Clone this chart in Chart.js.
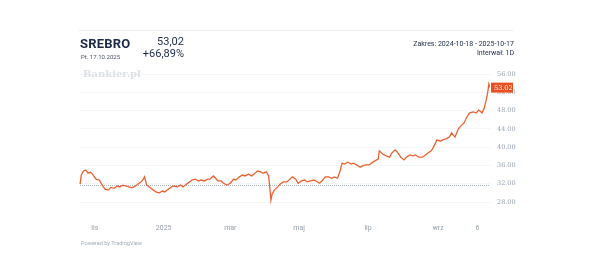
<!DOCTYPE html>
<html>
<head>
<meta charset="utf-8">
<script src="https://cdn.jsdelivr.net/npm/chart.js@4/dist/chart.umd.min.js"></script>
<style>
  body { margin: 0; background: #fff; font-family: Roboto, "Open Sans", sans-serif; }
  #wrap { position: relative; width: 600px; height: 265px; }
  #chart { position: absolute; left: 0; top: 0; }
  .txt { position: absolute; white-space: nowrap; }
  .r { text-align: right; }
  #topline { position: absolute; left: 78px; top: 30px; width: 436px; height: 1px; background: #f0f1f3; }
</style>
</head>
<body>
<div id="wrap">
  <canvas id="chart" width="600" height="265"></canvas>
  <div id="topline"></div>
  <div class="txt" style="left:80px;top:36px;font-size:13px;font-weight:700;color:#1c2a4a;letter-spacing:0.2px">SREBRO</div>
  <div class="txt" style="left:81px;top:53px;font-size:6px;color:#4a5568">Pt. 17.10.2025</div>
  <div class="txt r" style="left:100px;width:84px;top:35px;font-size:11px;color:#1c2a4a">53,02</div>
  <div class="txt r" style="left:100px;width:84px;top:47px;font-size:11px;color:#1c2a4a">+66,89%</div>
  <div class="txt" style="left:83px;top:68px;font-size:10px;font-weight:700;color:#dde1e6;font-family:'DejaVu Serif',serif">Bankier.pl</div>
  <div class="txt r" style="left:300px;width:214px;top:40px;font-size:7px;color:#1c2a4a">Zakres: 2024-10-18 - 2025-10-17</div>
  <div class="txt r" style="left:300px;width:214px;top:49px;font-size:7px;color:#1c2a4a">Interwał: 1D</div>
  <div class="txt" style="left:81px;top:240px;font-size:5.6px;color:#a3acb9">Powered by TradingView</div>
</div>
<script>
// calendar days since 2024-10-18
const days = [1, 2, 4, 6, 8, 10, 12, 15, 18, 20, 23, 26, 28, 31, 34, 36, 39, 42, 44, 47, 50, 52, 55, 57, 58,
  60, 63, 66, 68, 71, 74, 76, 79, 82, 84, 87, 90, 92, 95, 98, 100, 103, 106, 108, 111, 114, 116, 119, 121,
  123, 126, 128, 131, 134, 137, 139, 142, 145, 147, 150, 153, 155, 158, 161, 163, 166, 168, 170, 171, 173,
  176, 178, 181, 184, 186, 189, 192, 194, 197, 200, 202, 205, 208, 210, 213, 216, 218, 221, 224, 226, 229,
  231, 233, 235, 238, 241, 243, 246, 249, 251, 254, 257, 259, 262, 265, 266, 269, 272, 275, 277, 280, 282,
  285, 288, 290, 293, 296, 298, 301, 304, 306, 309, 312, 314, 317, 320, 322, 325, 328, 330, 333, 336, 338,
  341, 344, 346, 349, 352, 354, 357, 359, 361, 362, 363, 364];
const closes = [31.9, 33.9, 34.8, 35.0, 34.3, 34.5, 34.1, 33.0, 32.8, 31.9, 30.8, 30.6, 31.2, 31.0, 31.5, 31.3,
  31.7, 31.5, 31.3, 31.1, 31.5, 31.9, 32.4, 33.0, 33.5,
  31.7, 31.1, 30.6, 30.2, 30.0, 30.4, 30.2, 30.8, 31.3, 31.5, 31.3, 31.7, 31.3, 31.9, 32.4, 32.8, 33.0, 32.6,
  32.8, 32.6, 33.0, 33.0, 33.7, 33.2,
  32.6, 32.6, 32.1, 31.7, 32.1, 33.0, 32.8, 33.5, 33.9, 33.7, 34.1, 33.7, 34.1, 34.8, 34.6, 34.3, 34.6, 33.7,
  28.4, 29.7, 30.6,
  31.3, 31.9, 32.4, 32.4, 32.8, 33.5, 33.0, 32.1, 32.6, 32.8, 32.4, 32.6, 32.8, 32.6, 32.1, 32.8, 33.5, 33.5,
  33.2, 33.5, 33.2,
  34.6, 36.5, 36.3, 36.7, 36.3, 36.5, 36.1, 35.6, 35.9, 36.1, 36.1, 36.5, 37.0, 37.4, 39.2, 38.5, 38.1, 37.8,
  38.7, 39.4, 38.9,
  37.8, 37.2, 37.8, 38.3, 38.1, 38.3, 37.8, 37.8, 38.1, 38.7, 39.2, 40.0, 41.6, 41.3, 41.6, 41.8, 42.2, 43.1,
  42.2, 44.0, 44.6,
  45.3, 46.8, 47.5, 47.7, 47.5, 48.1, 47.5, 48.6, 50.7, 52.0, 53.8, 53.02];
const prevClose = 31.77;
const tickDays = [14, 75, 134, 195, 256, 318, 353];
const tickLabels = ['lis', '2025', 'mar', 'maj', 'lip', 'wrz', '6'];
const yTicks = [28, 32, 36, 40, 44, 48, 52, 56];

const lineColor = '#f0602f';

const extras = {
    id: 'extras',
    beforeDatasetsDraw(chart) {
        const { ctx, chartArea, scales } = chart;
        const y = Math.round(scales.y.getPixelForValue(prevClose)) + 0.5;
        ctx.save();
        ctx.strokeStyle = '#a9b4c4';
        ctx.lineWidth = 1;
        ctx.setLineDash([1, 1]);
        ctx.beginPath();
        ctx.moveTo(chartArea.left + 1, y);
        ctx.lineTo(chartArea.right, y);
        ctx.stroke();
        ctx.restore();
    },
    afterDraw(chart) {
        const { ctx, chartArea, scales } = chart;
        const last = closes[closes.length - 1];
        const y = scales.y.getPixelForValue(last);
        ctx.save();
        ctx.fillStyle = '#ea4f22';
        ctx.fillRect(chartArea.right + 1, y - 5, 22, 10);
        ctx.fillStyle = '#fff';
        ctx.font = '6.5px "DejaVu Serif", serif';
        ctx.textBaseline = 'middle';
        ctx.fillText(last.toFixed(2), chartArea.right + 4, y + 0.5);
        ctx.restore();
    }
};

new Chart(document.getElementById('chart'), {
    type: 'line',
    data: {
        datasets: [{
            data: days.map((d, i) => ({ x: d, y: closes[i] })),
            borderColor: lineColor,
            borderWidth: 1.3,
            pointRadius: 0,
            tension: 0
        }]
    },
    options: {
        responsive: false,
        animation: false,
        events: [],
        layout: { padding: { left: 79, top: 62, right: 0, bottom: 0 } },
        plugins: { legend: { display: false }, tooltip: { enabled: false } },
        scales: {
            x: {
                type: 'linear',
                min: 0,
                max: 364,
                afterBuildTicks: (s) => { s.ticks = tickDays.map(v => ({ value: v })); },
                afterFit: (s) => { s.height = 55; },
                grid: { display: false, drawTicks: false },
                border: { display: false },
                ticks: {
                    padding: 14,
                    color: '#97a0ac',
                    font: { size: 7, family: 'Roboto' },
                    maxRotation: 0,
                    autoSkip: false,
                    callback: (v) => tickLabels[tickDays.indexOf(v)]
                }
            },
            y: {
                position: 'right',
                min: 26.25,
                max: 58.625,
                afterBuildTicks: (s) => { s.ticks = yTicks.map(v => ({ value: v })); },
                afterFit: (s) => { s.width = 110; },
                grid: { color: '#f4f5f7', drawTicks: false },
                border: { display: false },
                ticks: {
                    padding: 7,
                    color: '#98a3b3',
                    font: { size: 6.5, family: 'DejaVu Serif' },
                    callback: (v) => v.toFixed(2)
                }
            }
        }
    },
    plugins: [extras]
});
</script>
</body>
</html>
